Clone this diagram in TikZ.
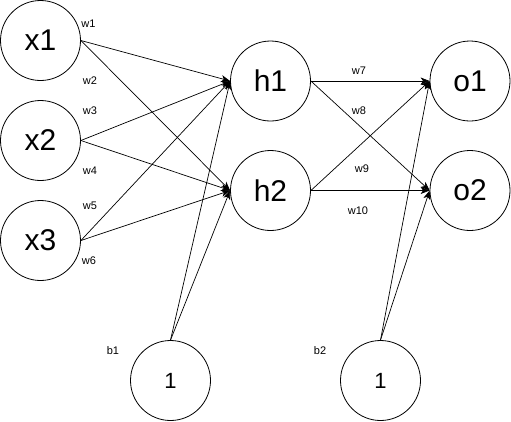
\documentclass[tikz,border=0pt]{standalone}
\usepackage{fontspec}
\setmainfont{Liberation Sans}
\usetikzlibrary{arrows.meta}
\begin{document}
\begin{tikzpicture}[x=1pt,y=-1pt,
  neuron/.style={circle,draw,line width=0.8pt,minimum size=80pt,inner sep=0pt,font=\fontsize{30}{30}\selectfont},
  biasn/.style={neuron,font=\fontsize{22}{22}\selectfont},
  conn/.style={line width=0.7pt,-{Stealth[length=9pt,width=7pt,inset=2.5pt]}},
  lbl/.style={inner sep=0pt,font=\fontsize{11}{11}\selectfont}]
\useasboundingbox (0,0) rectangle (511,421);
\node[neuron] (x1) at (40.5,40.5) {x1};
\node[neuron] (x2) at (40.5,140.5) {x2};
\node[neuron] (x3) at (40.5,240.5) {x3};
\node[neuron] (h1) at (270.5,81) {h1};
\node[neuron] (h2) at (270.5,190.5) {h2};
\node[neuron] (o1) at (470,81) {o1};
\node[neuron] (o2) at (470,190.5) {o2};
\node[biasn] (b1) at (170.5,380.5) {1};
\node[biasn] (b2) at (380.5,380.5) {1};
\draw[conn] (x1.east) -- (h1.west);
\draw[conn] (x1.east) -- (h2.west);
\draw[conn] (x2.east) -- (h1.west);
\draw[conn] (x2.east) -- (h2.west);
\draw[conn] (x3.east) -- (h1.west);
\draw[conn] (x3.east) -- (h2.west);
\draw[conn] (b1.north) -- (h1.west);
\draw[conn] (b1.north) -- (h2.west);
\draw[conn] (h1.east) -- (o1.west);
\draw[conn] (h1.east) -- (o2.west);
\draw[conn] (h2.east) -- (o1.west);
\draw[conn] (h2.east) -- (o2.west);
\draw[conn] (b2.north) -- (o1.west);
\draw[conn] (b2.north) -- (o2.west);
\node[lbl] (lw1) at (88.5,23.5) {w1};
\node[lbl] (lw2) at (90,81) {w2};
\node[lbl] (lw3) at (90,111) {w3};
\node[lbl] (lw4) at (90,171) {w4};
\node[lbl] (lw5) at (90,206) {w5};
\node[lbl] (lw6) at (89,261) {w6};
\node[lbl] (lw7) at (359,71) {w7};
\node[lbl] (lw8) at (359,111) {w8};
\node[lbl] (lw9) at (362,169) {w9};
\node[lbl] (lw10) at (358,211) {w10};
\node[lbl] (lb1) at (113,351) {b1};
\node[lbl] (lb2) at (320,351) {b2};
\end{tikzpicture}
\end{document}
